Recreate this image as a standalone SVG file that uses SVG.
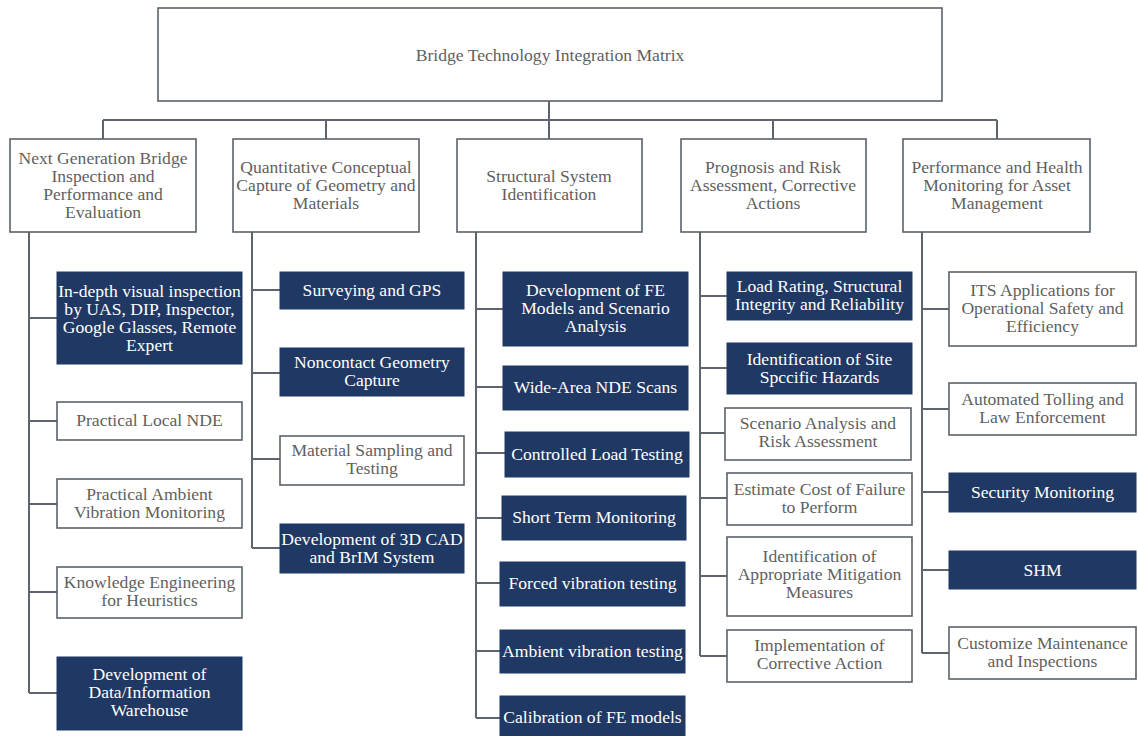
<svg xmlns="http://www.w3.org/2000/svg" width="1138" height="736" viewBox="0 0 1138 736">
<style>
  .wb { fill: #ffffff; stroke: #5c626b; stroke-width: 1.6; }
  .db { fill: #1f3864; stroke: #1f3864; stroke-width: 1; }
  .t { font-family: "Liberation Serif", "Times New Roman", serif; font-size: 17.6px; text-anchor: middle; }
  .tg { fill: #5f5f5f; }
  .tw { fill: #ffffff; }
  .ln { fill: none; stroke: #5f656e; stroke-width: 2; }
</style>
<rect x="0" y="0" width="1138" height="736" fill="#ffffff"/>
<g id="connectors" class="ln">
  <path d="M549 101 V120 M103 120 H997 M103 120 V139 M326 120 V139 M549 120 V139 M773 120 V139 M997 120 V139"/>
  <path d="M29 232 V693 M29 318 H57 M29 421 H57 M29 504 H57 M29 592 H57 M29 693 H57"/>
  <path d="M252 232 V548 M252 290 H280 M252 373 H280 M252 459 H280 M252 548 H280"/>
  <path d="M476 232 V718 M476 309 H503 M476 387 H503 M476 453 H505 M476 518 H502 M476 583 H500 M476 651 H500 M476 718 H500"/>
  <path d="M700 232 V656 M700 296 H727 M700 368 H727 M700 433 H725 M700 498 H727 M700 576 H727 M700 656 H727"/>
  <path d="M922 232 V653 M922 309 H949 M922 409 H949 M922 492 H949 M922 570 H949 M922 653 H949"/>
</g>
<g id="root">
  <rect class="wb" x="158" y="8" width="784" height="93"/>
  <text class="t tg" x="550" y="61">Bridge Technology Integration Matrix</text>
</g>
<g id="c1">
  <rect class="wb" x="10" y="139" width="186" height="93"/>
  <text class="t tg" x="103" y="164">Next Generation Bridge</text>
  <text class="t tg" x="103" y="182">Inspection and</text>
  <text class="t tg" x="103" y="200">Performance and</text>
  <text class="t tg" x="103" y="218">Evaluation</text>
</g>
<g id="c2">
  <rect class="wb" x="233" y="139" width="186" height="93"/>
  <text class="t tg" x="326" y="173">Quantitative Conceptual</text>
  <text class="t tg" x="326" y="191">Capture of Geometry and</text>
  <text class="t tg" x="326" y="209">Materials</text>
</g>
<g id="c3">
  <rect class="wb" x="457" y="139" width="185" height="93"/>
  <text class="t tg" x="549" y="182">Structural System</text>
  <text class="t tg" x="549" y="200">Identification</text>
</g>
<g id="c4">
  <rect class="wb" x="681" y="139" width="185" height="93"/>
  <text class="t tg" x="773" y="173">Prognosis and Risk</text>
  <text class="t tg" x="773" y="191">Assessment, Corrective</text>
  <text class="t tg" x="773" y="209">Actions</text>
</g>
<g id="c5">
  <rect class="wb" x="903" y="139" width="187" height="93"/>
  <text class="t tg" x="997" y="173">Performance and Health</text>
  <text class="t tg" x="997" y="191">Monitoring for Asset</text>
  <text class="t tg" x="997" y="209">Management</text>
</g>
<!-- column 1 -->
<g id="n1a">
  <rect class="db" x="57" y="272" width="185" height="92"/>
  <text class="t tw" x="149.5" y="297">In-depth visual inspection</text>
  <text class="t tw" x="149.5" y="315">by UAS, DIP, Inspector,</text>
  <text class="t tw" x="149.5" y="333">Google Glasses, Remote</text>
  <text class="t tw" x="149.5" y="351">Expert</text>
</g>
<g id="n1b">
  <rect class="wb" x="57" y="402" width="185" height="38"/>
  <text class="t tg" x="149.5" y="426">Practical Local NDE</text>
</g>
<g id="n1c">
  <rect class="wb" x="57" y="479" width="185" height="49"/>
  <text class="t tg" x="149.5" y="500">Practical  Ambient</text>
  <text class="t tg" x="149.5" y="518">Vibration Monitoring</text>
</g>
<g id="n1d">
  <rect class="wb" x="57" y="567" width="185" height="51"/>
  <text class="t tg" x="149.5" y="588">Knowledge Engineering</text>
  <text class="t tg" x="149.5" y="606">for Heuristics</text>
</g>
<g id="n1e">
  <rect class="db" x="57" y="657" width="185" height="73"/>
  <text class="t tw" x="149.5" y="680">Development of</text>
  <text class="t tw" x="149.5" y="698">Data/Information</text>
  <text class="t tw" x="149.5" y="716">Warehouse</text>
</g>
<!-- column 2 -->
<g id="n2a">
  <rect class="db" x="280" y="272" width="184" height="37"/>
  <text class="t tw" x="372" y="296">Surveying and GPS</text>
</g>
<g id="n2b">
  <rect class="db" x="280" y="348" width="184" height="48"/>
  <text class="t tw" x="372" y="368">Noncontact Geometry</text>
  <text class="t tw" x="372" y="386">Capture</text>
</g>
<g id="n2c">
  <rect class="wb" x="280" y="436" width="184" height="49"/>
  <text class="t tg" x="372" y="456">Material  Sampling and</text>
  <text class="t tg" x="372" y="474">Testing</text>
</g>
<g id="n2d">
  <rect class="db" x="280" y="524" width="184" height="49"/>
  <text class="t tw" x="372" y="545">Development of 3D CAD</text>
  <text class="t tw" x="372" y="563">and BrIM System</text>
</g>
<!-- column 3 -->
<g id="n3a">
  <rect class="db" x="503" y="272" width="185" height="74"/>
  <text class="t tw" x="595.5" y="296">Development of FE</text>
  <text class="t tw" x="595.5" y="314">Models and Scenario</text>
  <text class="t tw" x="595.5" y="332">Analysis</text>
</g>
<g id="n3b">
  <rect class="db" x="503" y="366" width="185" height="44"/>
  <text class="t tw" x="595.5" y="393">Wide-Area NDE  Scans</text>
</g>
<g id="n3c">
  <rect class="db" x="505" y="432" width="184" height="45"/>
  <text class="t tw" x="597" y="460">Controlled Load Testing</text>
</g>
<g id="n3d">
  <rect class="db" x="502" y="496" width="184" height="44"/>
  <text class="t tw" x="594" y="523">Short Term Monitoring</text>
</g>
<g id="n3e">
  <rect class="db" x="500" y="562" width="185" height="44"/>
  <text class="t tw" x="592.5" y="589">Forced vibration testing</text>
</g>
<g id="n3f">
  <rect class="db" x="500" y="630" width="185" height="43"/>
  <text class="t tw" x="592.5" y="657">Ambient vibration testing</text>
</g>
<g id="n3g">
  <rect class="db" x="500" y="696" width="185" height="46"/>
  <text class="t tw" x="592.5" y="723">Calibration of FE models</text>
</g>
<!-- column 4 -->
<g id="n4a">
  <rect class="db" x="727" y="272" width="185" height="48"/>
  <text class="t tw" x="819.5" y="292">Load Rating, Structural</text>
  <text class="t tw" x="819.5" y="310">Integrity and Reliability</text>
</g>
<g id="n4b">
  <rect class="db" x="727" y="343" width="185" height="51"/>
  <text class="t tw" x="819.5" y="365">Identification of Site</text>
  <text class="t tw" x="819.5" y="383">Spccific Hazards</text>
</g>
<g id="n4c">
  <rect class="wb" x="725" y="408" width="186" height="52"/>
  <text class="t tg" x="818" y="429">Scenario Analysis  and</text>
  <text class="t tg" x="818" y="447">Risk Assessment</text>
</g>
<g id="n4d">
  <rect class="wb" x="727" y="473" width="185" height="52"/>
  <text class="t tg" x="819.5" y="495">Estimate  Cost of Failure</text>
  <text class="t tg" x="819.5" y="513">to Perform</text>
</g>
<g id="n4e">
  <rect class="wb" x="727" y="537" width="185" height="79"/>
  <text class="t tg" x="819.5" y="562">Identification of</text>
  <text class="t tg" x="819.5" y="580">Appropriate Mitigation</text>
  <text class="t tg" x="819.5" y="598">Measures</text>
</g>
<g id="n4f">
  <rect class="wb" x="727" y="630" width="185" height="52"/>
  <text class="t tg" x="819.5" y="651">Implementation of</text>
  <text class="t tg" x="819.5" y="669">Corrective Action</text>
</g>
<!-- column 5 -->
<g id="n5a">
  <rect class="wb" x="949" y="272" width="187" height="74"/>
  <text class="t tg" x="1042.5" y="296">ITS Applications for</text>
  <text class="t tg" x="1042.5" y="314">Operational Safety and</text>
  <text class="t tg" x="1042.5" y="332">Efficiency</text>
</g>
<g id="n5b">
  <rect class="wb" x="949" y="383" width="187" height="52"/>
  <text class="t tg" x="1042.5" y="405">Automated Tolling and</text>
  <text class="t tg" x="1042.5" y="423">Law Enforcement</text>
</g>
<g id="n5c">
  <rect class="db" x="949" y="473" width="187" height="39"/>
  <text class="t tw" x="1042.5" y="498">Security Monitoring</text>
</g>
<g id="n5d">
  <rect class="db" x="949" y="551" width="187" height="38"/>
  <text class="t tw" x="1042.5" y="576">SHM</text>
</g>
<g id="n5e">
  <rect class="wb" x="949" y="627" width="187" height="52"/>
  <text class="t tg" x="1042.5" y="649">Customize Maintenance</text>
  <text class="t tg" x="1042.5" y="667">and Inspections</text>
</g>
</svg>
